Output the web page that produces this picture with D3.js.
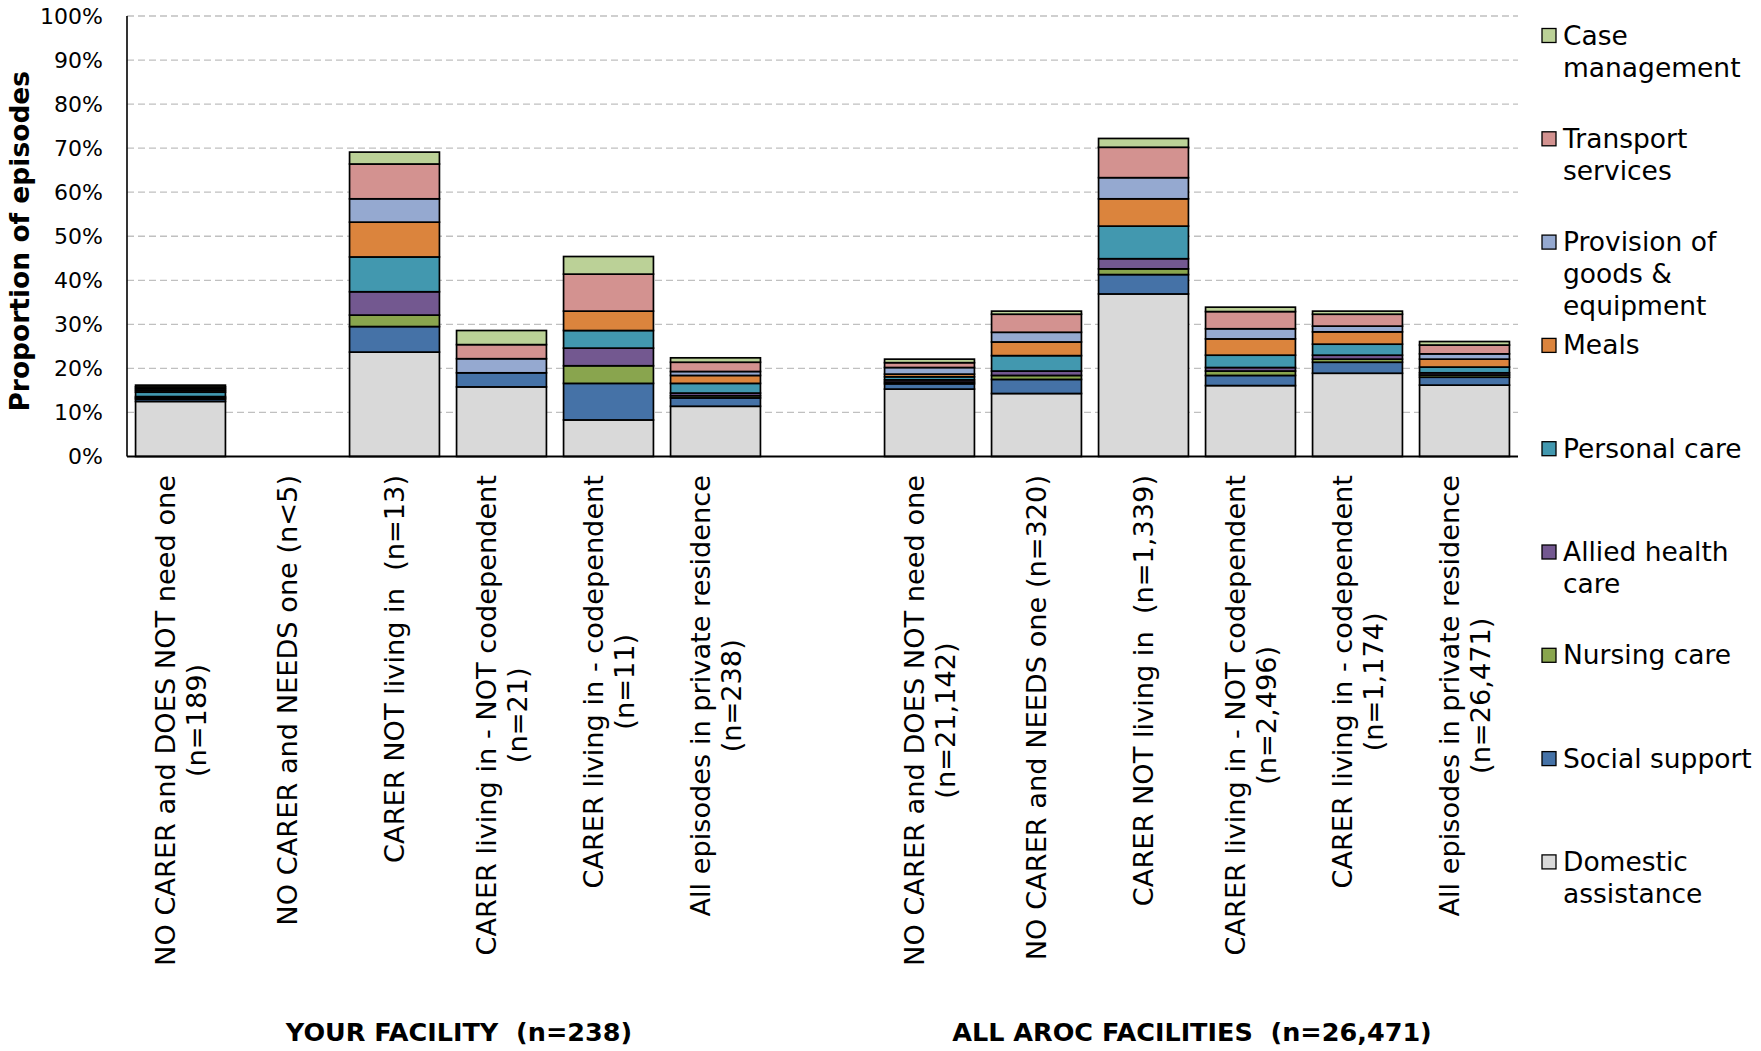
<!DOCTYPE html>
<html>
<head>
<meta charset="utf-8">
<script src="https://cdn.jsdelivr.net/npm/d3@7"></script>
<style>
  body { margin: 0; background: #fff; }
  text { font-family: "DejaVu Sans", sans-serif; fill: #000; white-space: pre; }
</style>
</head>
<body>
<div id="chart"></div>
<script>
// category labels (one entry per slot, empty slot = gap between the two groups)
const catLabels = [
  ["NO CARER and DOES NOT need one", "(n=189)"],
  ["NO CARER and NEEDS one (n<5)"],
  ["CARER NOT living in  (n=13)"],
  ["CARER living in - NOT codependent", "(n=21)"],
  ["CARER living in - codependent", "(n=11)"],
  ["All episodes in private residence", "(n=238)"],
  [],
  ["NO CARER and DOES NOT need one", "(n=21,142)"],
  ["NO CARER and NEEDS one (n=320)"],
  ["CARER NOT living in  (n=1,339)"],
  ["CARER living in - NOT codependent", "(n=2,496)"],
  ["CARER living in - codependent", "(n=1,174)"],
  ["All episodes in private residence", "(n=26,471)"]
];
const groupTitles = ["YOUR FACILITY  (n=238)", "ALL AROC FACILITIES  (n=26,471)"];
const groupSlots = [[0, 5], [7, 12]];

// series, bottom of the stack first
const keys = ["Domestic assistance", "Social support", "Nursing care", "Allied health care",
  "Personal care", "Meals", "Provision of goods & equipment", "Transport services", "Case management"];
const legendLines = [["Domestic", "assistance"], ["Social support"], ["Nursing care"], ["Allied health", "care"],
  ["Personal care"], ["Meals"], ["Provision of", "goods &", "equipment"], ["Transport", "services"], ["Case", "management"]];
const colors = ["#D9D9D9", "#4572A7", "#89A54E", "#735890", "#4298AF", "#DB843D", "#95A9D0", "#D39290", "#BBD197"];

const domestic  = [12.5, 0, 23.7, 15.8, 8.3, 11.4, null, 15.3, 14.3, 36.9, 16.1, 18.9, 16.2];
const social    = [0.5, 0, 5.8, 3.2, 8.3, 1.9, null, 1.2, 3.2, 4.4, 2.3, 2.5, 1.8];
const nursing   = [0.3, 0, 2.6, 0, 4.0, 0.5, null, 0.4, 0.9, 1.3, 1.0, 0.7, 0.5];
const allied    = [0.3, 0, 5.3, 0, 4.0, 0.6, null, 0.5, 1.0, 2.3, 0.8, 0.9, 0.5];
const personal  = [1.0, 0, 7.9, 0, 4.0, 2.2, null, 0.7, 3.5, 7.4, 2.8, 2.5, 1.3];
const meals     = [0.4, 0, 7.9, 0, 4.4, 1.8, null, 0.6, 3.1, 6.2, 3.7, 2.8, 1.8];
const provision = [0.4, 0, 5.3, 3.2, 0, 0.9, null, 1.5, 2.2, 4.8, 2.3, 1.3, 1.2];
const transport = [0.4, 0, 7.9, 3.2, 8.4, 2.1, null, 1.1, 4.1, 6.9, 3.9, 2.7, 2.0];
const caseMgmt  = [0.4, 0, 2.7, 3.2, 4.0, 1.0, null, 0.8, 0.7, 2.0, 1.0, 0.7, 0.8];
const seriesValues = [domestic, social, nursing, allied, personal, meals, provision, transport, caseMgmt];

const yTicks = [0, 10, 20, 30, 40, 50, 60, 70, 80, 90, 100];

const width = 1761, height = 1051;
const margin = {top: 16, left: 127, right: 243, bottom: 594.5};
const plotW = width - margin.left - margin.right,
      plotH = height - margin.top - margin.bottom;

const svg = d3.select("#chart").append("svg")
    .attr("width", width)
    .attr("height", height);

svg.append("rect").attr("width", width).attr("height", height).attr("fill", "#fff");

const g = svg.append("g")
    .attr("transform", "translate(" + margin.left + "," + margin.top + ")");

// build rows for the stack
const rows = catLabels.map((c, i) => {
    let r = {slot: i};
    keys.forEach((k, j) => r[k] = seriesValues[j][i] || 0);
    return r;
});

const stack = d3.stack().keys(keys);
const series = stack(rows);

const x = d3.scaleBand()
    .domain(rows.map(d => d.slot))
    .range([0, plotW])
    .paddingInner(0.16)
    .paddingOuter(0.08);

const y = d3.scaleLinear()
    .domain([0, 100])
    .range([plotH, 0]);

// gridlines
g.selectAll("line.grid")
    .data(yTicks.filter(t => t > 0))
    .enter().append("line")
    .attr("class", "grid")
    .attr("x1", 0).attr("x2", plotW)
    .attr("y1", d => y(d)).attr("y2", d => y(d))
    .attr("stroke", "#c0c0c0")
    .attr("stroke-width", 1.3)
    .attr("stroke-dasharray", "7,4");

// y axis labels
const yAxis = g.append("g")
    .call(d3.axisLeft(y).tickValues(yTicks).tickSize(0).tickPadding(24).tickFormat(d => d + "%"));
yAxis.select(".domain").remove();
yAxis.selectAll("text")
    .style("font-family", "DejaVu Sans")
    .style("font-size", "22px")
    .attr("fill", "#000");

// stacked bars
const groups = g.selectAll("g.serie")
    .data(series)
    .enter().append("g")
    .attr("class", "serie")
    .attr("fill", (d, i) => colors[i]);

groups.selectAll("rect")
    .data(d => d.filter(v => v[1] - v[0] > 0))
    .enter().append("rect")
    .attr("x", d => x(d.data.slot))
    .attr("width", x.bandwidth())
    .attr("y", d => y(d[1]))
    .attr("height", d => y(d[0]) - y(d[1]))
    .attr("stroke", "#000")
    .attr("stroke-width", 1.7);

// axis lines
g.append("line")
    .attr("x1", 0).attr("x2", 0)
    .attr("y1", y(100)).attr("y2", y(0))
    .attr("stroke", "#000").attr("stroke-width", 1.6);
g.append("line")
    .attr("x1", 0).attr("x2", plotW)
    .attr("y1", y(0)).attr("y2", y(0))
    .attr("stroke", "#000").attr("stroke-width", 2);

// y axis title
svg.append("text")
    .attr("transform", "translate(29," + (margin.top + plotH / 2 + 5) + ") rotate(-90)")
    .attr("text-anchor", "middle")
    .style("font-size", "26.5px")
    .style("font-weight", "bold")
    .text("Proportion of episodes");

// category labels, rotated, each block ends just under the axis
const lineH = 31.5;
const labelTop = margin.top + plotH + 18.5;
catLabels.forEach((lines, i) => {
    if (!lines.length) return;
    const cx = margin.left + x(i) + x.bandwidth() / 2;
    const lab = svg.append("g");
    const texts = lines.map((t, j) => lab.append("text")
        .attr("x", 0)
        .attr("y", (j - (lines.length - 1) / 2) * lineH)
        .attr("dy", "0.36em")
        .attr("text-anchor", "middle")
        .style("font-size", "27.2px")
        .text(t));
    const maxLen = d3.max(texts, t => t.node().getComputedTextLength());
    lab.attr("transform", "translate(" + cx + "," + (labelTop + maxLen / 2) + ") rotate(-90)");
});

// group titles (Excel sets them a little off the group centre)
const titleNudge = [11, -5];
groupTitles.forEach((t, i) => {
    const [a, b] = groupSlots[i];
    const cx = margin.left + (x(a) + x(b) + x.bandwidth()) / 2 + titleNudge[i];
    svg.append("text")
        .attr("x", cx)
        .attr("y", 1041)
        .attr("text-anchor", "middle")
        .style("font-size", "25.5px")
        .style("font-weight", "bold")
        .text(t);
});

// legend (top entry = top of the stack)
const legend = svg.append("g").attr("transform", "translate(1542, 28.5)");
const legendStep = 103.3;
const legendItems = keys.map((k, i) => ({key: k, color: colors[i], lines: legendLines[i]})).reverse();

legendItems.forEach((d, i) => {
    const item = legend.append("g").attr("transform", "translate(0," + (i * legendStep) + ")");
    item.append("rect")
        .attr("width", 14).attr("height", 14)
        .attr("fill", d.color)
        .attr("stroke", "#000")
        .attr("stroke-width", 1.3);
    d.lines.forEach((t, j) => {
        item.append("text")
            .attr("x", 21)
            .attr("y", 16 + j * 32)
            .style("font-size", "26.5px")
            .text(t);
    });
});
</script>
</body>
</html>
